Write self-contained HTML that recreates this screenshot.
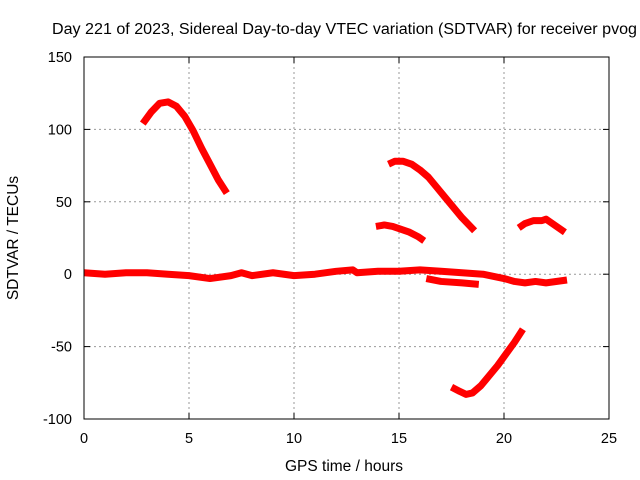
<!DOCTYPE html>
<html><head><meta charset="utf-8"><style>body{margin:0;background:#fff}svg{display:block;font-family:"Liberation Sans",sans-serif}</style></head>
<body>
<svg id="c" width="640" height="480">
<text x="52" y="34" font-size="15.5" textLength="585" lengthAdjust="spacingAndGlyphs">Day 221 of 2023, Sidereal Day-to-day VTEC variation (SDTVAR) for receiver pvog</text>
<text x="344" y="471" font-size="15.5" text-anchor="middle">GPS time / hours</text>
<text transform="translate(18,238) rotate(-90)" font-size="15.5" text-anchor="middle">SDTVAR / TECUs</text>
<g id="grid"></g><g id="marks"></g>
<rect x="84" y="57" width="525" height="362" fill="none" stroke="#000"/>
</svg>
<script>
const xTicks=[0,5,10,15,20,25];
const yTicks=[-100,-50,0,50,100,150];
const sArc1=[[2.8,104],[3.2,112],[3.6,118],[4.0,119],[4.4,116],[4.8,109],[5.2,99],[5.6,87],[6.0,76],[6.4,65],[6.8,56]];
const sArc2=[[14.5,76],[14.8,78],[15.2,78],[15.6,76],[16.0,72],[16.4,67],[16.8,60],[17.2,53],[17.6,46],[18.0,39],[18.4,33],[18.6,30]];
const sArc3=[[13.9,33],[14.3,34],[14.7,33],[15.1,31],[15.5,29],[15.9,26],[16.2,23]];
const sArc4=[[20.7,32],[21.0,35],[21.4,37],[21.8,37],[22.0,38],[22.3,35],[22.6,32],[22.9,29]];
const sArc5=[[17.5,-78],[17.9,-81],[18.2,-83],[18.5,-82],[18.9,-77],[19.3,-70],[19.7,-63],[20.1,-55],[20.5,-47],[20.9,-38]];
const sBase=[[0,1],[1,0],[2,1],[3,1],[4,0],[5,-1],[6,-3],[7,-1],[7.5,1],[8,-1],[9,1],[10,-1],[11,0],[12,2],[12.8,3],[13,1],[14,2],[15,2],[16,3],[17,2],[18,1],[19,0],[20,-3],[20.5,-5],[21,-6],[21.5,-5],[22,-6],[23,-4]];
const sBase2=[[16.3,-3],[17,-5],[18,-6],[18.8,-7]];
const X=v=>84+v*21, Y=v=>274.2-v*1.448;
const NS='http://www.w3.org/2000/svg';
const g=document.getElementById('grid'), m=document.getElementById('marks');
function mk(t,a,p){const e=document.createElementNS(NS,t);for(const k in a)e.setAttribute(k,a[k]);p.appendChild(e);return e;}
xTicks.forEach(v=>{
 if(v>0&&v<25){const l=mk('line',{x1:X(v),x2:X(v),y1:57,y2:419,stroke:'#999','stroke-dasharray':'2,3'},g);
 
 }
 mk('line',{x1:X(v),x2:X(v),y1:419,y2:413,stroke:'#000'},g);
 mk('line',{x1:X(v),x2:X(v),y1:57,y2:63,stroke:'#000'},g);
 const t=mk('text',{x:X(v),y:443,'font-size':14.5,'text-anchor':'middle'},g);t.textContent=v;
 
 
});
yTicks.forEach(v=>{
 if(v>-100&&v<150){const l=mk('line',{x1:84,x2:609,y1:Y(v),y2:Y(v),stroke:'#999','stroke-dasharray':'2,3'},g);
 
 }
 mk('line',{x1:84,x2:90,y1:Y(v),y2:Y(v),stroke:'#000'},g);
 mk('line',{x1:609,x2:603,y1:Y(v),y2:Y(v),stroke:'#000'},g);
 const t=mk('text',{x:72,y:Y(v)+5,'font-size':14.5,'text-anchor':'end'},g);t.textContent=v;
 
 
});
[[sArc1,'arc-1'],[sArc2,'arc-2'],[sArc3,'arc-3'],[sArc4,'arc-4'],[sArc5,'arc-5'],[sBase,'baseline-series'],[sBase2,'baseline-series-2']].forEach(([d,n])=>{
 const p=mk('polyline',{points:d.map(q=>X(q[0])+','+Y(q[1])).join(' '),fill:'none',stroke:'#f00','stroke-width':7,'stroke-linejoin':'round'},m);
 
 
});
</script>
</body></html>
